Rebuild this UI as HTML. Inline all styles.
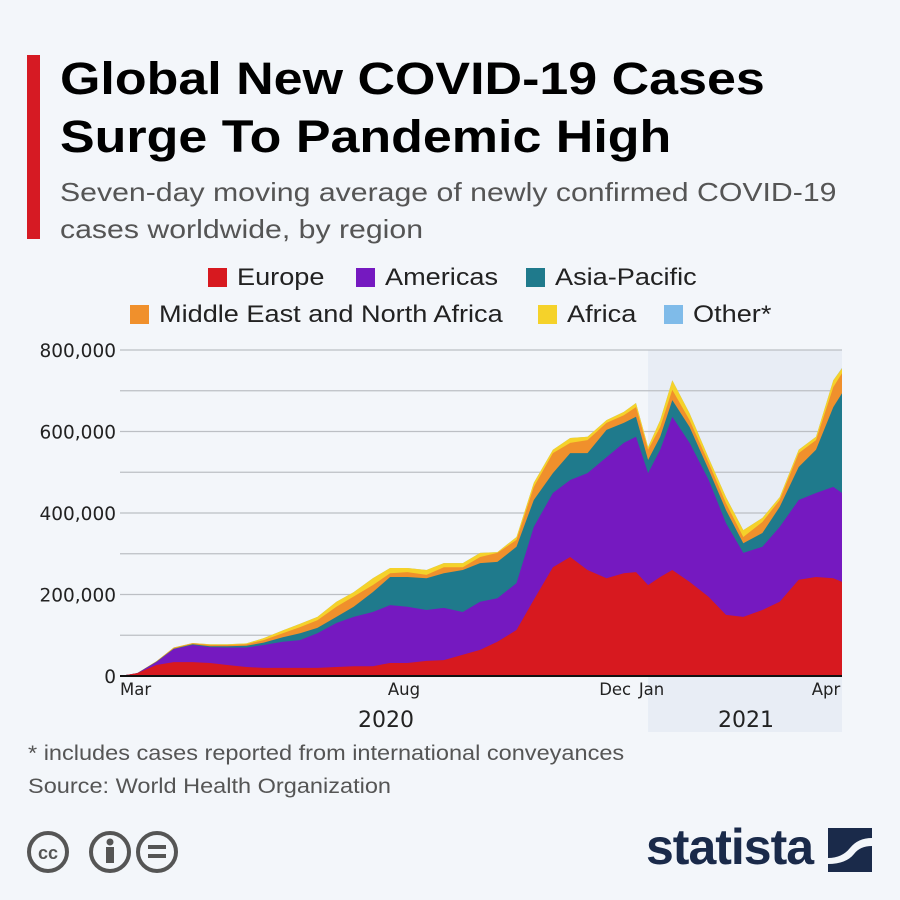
<!DOCTYPE html>
<html><head><meta charset="utf-8"><style>
body{margin:0;width:900px;height:900px;background:#f3f6fa;font-family:"Liberation Sans","DejaVu Sans",sans-serif;position:relative;overflow:hidden}
.a{position:absolute;white-space:nowrap}
.sx{display:inline-block;transform:scaleX(1.13);transform-origin:left center}
</style></head><body>
<div class="a" style="left:27px;top:55px;width:13px;height:184px;background:#d61a23"></div>
<div class="a" style="left:60px;top:50px;font-size:45px;font-weight:bold;line-height:58px;color:#000;transform:scaleX(1.155);transform-origin:left top">Global New COVID-19 Cases<br>Surge To Pandemic High</div>
<div class="a" style="left:60px;top:174px;font-size:26px;line-height:37px;color:#555;transform:scaleX(1.163);transform-origin:left top">Seven-day moving average of newly confirmed COVID-19<br>cases worldwide, by region</div>
<div class="a" style="left:0;top:264px;width:900px;font-size:24px;color:#222">
 <div class="a" style="left:208px;top:0"><span style="display:inline-block;width:19px;height:19px;background:#d7191f;margin-right:10px;vertical-align:-2px"></span><span class="sx">Europe</span></div>
 <div class="a" style="left:356px;top:0"><span style="display:inline-block;width:19px;height:19px;background:#7519c0;margin-right:10px;vertical-align:-2px"></span><span class="sx">Americas</span></div>
 <div class="a" style="left:526px;top:0"><span style="display:inline-block;width:19px;height:19px;background:#1f7a8c;margin-right:10px;vertical-align:-2px"></span><span class="sx">Asia-Pacific</span></div>
 <div class="a" style="left:130px;top:37px"><span style="display:inline-block;width:19px;height:19px;background:#f0902c;margin-right:10px;vertical-align:-2px"></span><span class="sx">Middle East and North Africa</span></div>
 <div class="a" style="left:538px;top:37px"><span style="display:inline-block;width:19px;height:19px;background:#f5d22a;margin-right:10px;vertical-align:-2px"></span><span class="sx">Africa</span></div>
 <div class="a" style="left:664px;top:37px"><span style="display:inline-block;width:19px;height:19px;background:#7fbbe9;margin-right:10px;vertical-align:-2px"></span><span class="sx">Other*</span></div>
</div>
<svg class="a" style="left:0;top:0" width="900" height="900" id="chart"></svg>
<div class="a" style="left:28px;top:742px;font-size:21px;color:#555;transform:scaleX(1.12);transform-origin:left top">* includes cases reported from international conveyances</div>
<div class="a" style="left:28px;top:775px;font-size:21px;color:#555;transform:scaleX(1.12);transform-origin:left top">Source: World Health Organization</div>
<svg class="a" style="left:20px;top:825px" width="170" height="56">
 <g fill="none" stroke="#555" stroke-width="4"><circle cx="28" cy="27" r="19"/><circle cx="90" cy="27" r="19"/><circle cx="137" cy="27" r="19"/></g>
 <text x="28" y="34" font-size="18" font-weight="bold" fill="#555" text-anchor="middle" font-family="Liberation Sans">cc</text>
 <circle cx="90" cy="17" r="3.5" fill="#555"/><rect x="86" y="22" width="8" height="16" fill="#555"/>
 <rect x="128" y="20" width="18" height="4" fill="#555"/><rect x="128" y="29" width="18" height="4" fill="#555"/>
</svg>
<div class="a" style="left:646px;top:818px;font-size:50px;font-weight:bold;color:#1a2a4a;letter-spacing:-1px">statista</div>
<svg class="a" style="left:828px;top:828px" width="44" height="44"><rect width="44" height="44" fill="#1a2a4a"/><path d="M0 30 Q14 30 22 20 Q30 10 44 10 L44 18 Q32 18 26 26 Q18 36 0 36Z" fill="#f3f6fa"/></svg>
<script>
const days=[0,10,21,31,42,52,62,73,83,94,104,114,125,135,146,156,166,177,187,198,208,218,229,239,250,260,270,281,291,298,305,312,319,329,340,350,360,371,381,392,402,412,417];
const europe=[0,7,27,34,34,32,27,22,20,20,20,20,22,24,24,32,32,37,39,52,64,84,113,187,267,292,260,240,252,255,223,243,260,231,194,150,145,162,182,236,243,240,231];
const americas=[0,7,34,66,76,71,70,70,76,84,88,105,130,145,157,174,170,162,167,157,182,191,228,366,449,481,498,537,572,587,498,555,636,572,481,375,302,317,366,432,449,464,449];
const asiaPacific=[0,7,35,67,78,73,73,74,82,95,105,118,145,170,206,243,243,240,252,260,277,280,317,432,498,547,547,604,621,636,530,587,677,611,506,407,326,351,415,513,555,660,694];
const mena=[0,7,36,69,80,76,76,78,88,105,120,137,170,195,223,252,255,248,267,267,292,302,334,464,547,572,579,621,640,660,555,611,702,628,523,424,341,378,432,547,579,709,743];
const africa=[0,7,36,70,81,78,78,80,93,112,128,145,182,206,240,265,265,260,277,277,302,304,341,474,555,584,587,628,648,670,562,628,726,645,535,439,358,388,439,555,587,726,755];
const other=[0,7,36,70,81,78,78,80,93,112,128,145,182,206,240,265,265,260,277,277,302,304,341,474,555,584,587,628,648,670,562,628,726,645,535,439,358,388,439,555,587,726,756];
const yTicks=[0,200000,400000,600000,800000];
const yTickLabels=["0","200,000","400,000","600,000","800,000"];
const xTickDays=[10,164,286,307,409];
const xTickLabels=["Mar","Aug","Dec","Jan","Apr"];
const yearLabels=["2020","2021"];

const NS="http://www.w3.org/2000/svg",svg=document.getElementById('chart');
const X0=120,X1=842,DMAX=417,Y0=676,YT=350,VMAX=800;
const FF='"DejaVu Sans","Liberation Sans",sans-serif';
const xs=d=>X0+(X1-X0)*d/DMAX, ys=v=>Y0-(Y0-YT)*v/VMAX;
function mk(t,a){const e=document.createElementNS(NS,t);for(const k in a)e.setAttribute(k,a[k]);svg.appendChild(e);return e;}
let sh=mk('rect',{x:xs(305)+0,y:YT,width:X1-xs(305),height:382,fill:'#e8edf5'});


for(let i=1;i<=8;i++){const g=mk('line',{x1:X0,x2:X1,y1:ys(i*100),y2:ys(i*100),stroke:'#bcbfc4','stroke-width':1.2});

}
yTicks.forEach((v,i)=>{const t=mk('text',{x:116,y:ys(v/1000)+7,'text-anchor':'end','font-size':18.5,fill:'#222','font-family':FF});t.textContent=yTickLabels[i];

});
const series=[[other,'#7fbbe9','other'],[africa,'#f5d22a','africa'],[mena,'#f0902c','mena'],[asiaPacific,'#1f7a8c','asia-pacific'],[americas,'#7519c0','americas'],[europe,'#d7191f','europe']];
series.forEach(([arr,c,n])=>{let d='M'+xs(days[0])+','+Y0;arr.forEach((v,i)=>d+='L'+xs(days[i]).toFixed(1)+','+ys(v).toFixed(1));d+='L'+xs(days[days.length-1])+','+Y0+'Z';
const p=mk('path',{d:d,fill:c});

});
const bl=mk('line',{x1:X0,x2:X1,y1:Y0,y2:Y0,stroke:'#111','stroke-width':2});


xTickDays.forEach((d,i)=>{const t=mk('text',{x:xs(d),y:695,'text-anchor':i==0?'start':'middle','font-size':16.5,fill:'#222','font-family':FF});if(i==0)t.setAttribute('x',X0);
if(i==4)t.setAttribute('x',826);
t.textContent=xTickLabels[i];

});
[[386,0],[746,1]].forEach(([x,i])=>{const t=mk('text',{x:x,y:727,'text-anchor':'middle','font-size':22,fill:'#222','font-family':FF});t.textContent=yearLabels[i];

});
</script>
</body></html>
